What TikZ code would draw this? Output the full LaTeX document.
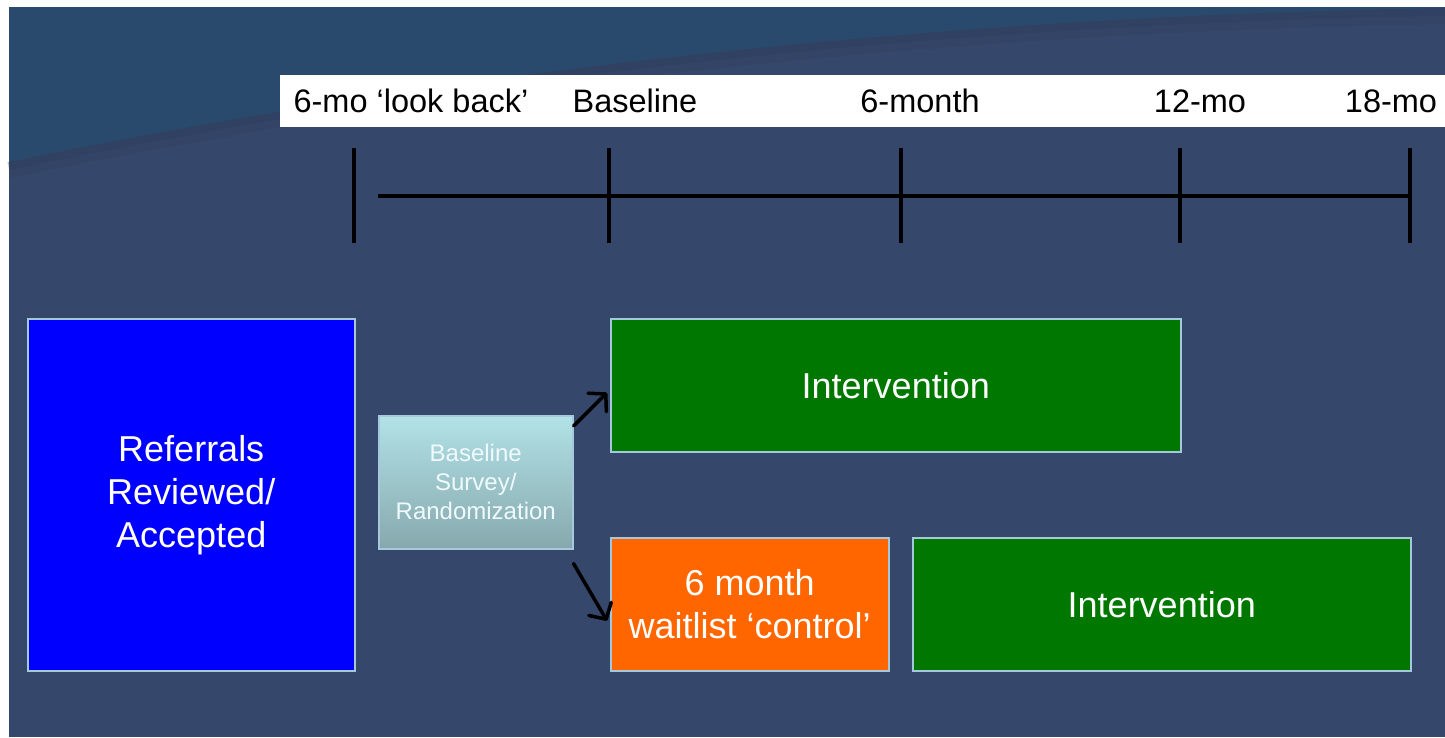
\documentclass[tikz,border=0pt]{standalone}
\usepackage{fontspec}
\setmainfont{Liberation Sans}
\usetikzlibrary{arrows.meta,calc}
\definecolor{bgdark}{HTML}{35476A}
\definecolor{bgtop}{HTML}{294A6C}
\definecolor{bgshade}{HTML}{2C3B58}
\definecolor{boxborder}{HTML}{A6C8DC}
\definecolor{refblue}{HTML}{0000FF}
\definecolor{intgreen}{HTML}{007800}
\definecolor{ctrlorange}{HTML}{FF6600}
\definecolor{survtop}{HTML}{B2E2E7}
\definecolor{survbot}{HTML}{86A8AD}
\tikzset{
  box/.style={draw=boxborder, line width=1.5pt, inner sep=0pt, text=white,
    align=center, anchor=north west},
  bigtext/.style={font=\fontsize{36}{43}\selectfont},
  ticklabel/.style={font=\fontsize{32.5}{38}\selectfont, text=black, anchor=base, inner sep=0pt},
  tick/.style={line width=4pt, black},
  arr/.style={line width=3.5pt, black, line cap=round,
    -{Straight Barb[length=12pt,width=26pt,line width=3.5pt,round]}},
}
\begin{document}
\begin{tikzpicture}[x=1pt,y=-1pt]
\useasboundingbox (0,0) rectangle (1445,737);
\fill[white] (0,0) rectangle (1445,737);
\fill[bgdark] (9,7) rectangle (1445,737);
\draw[bgshade, line width=16pt, opacity=0.18] (9,170) .. controls (500,68) and (1000,23) .. (1445,16);
\draw[bgshade, line width=8pt, opacity=0.25] (9,166) .. controls (500,64) and (1000,19) .. (1445,12);
\fill[bgtop] (9,7) -- (9,162) .. controls (500,60) and (1000,15) .. (1445,8) -- (1445,7) -- cycle;

% label bar
\fill[white] (280,75) rectangle (1445,127);
\node[ticklabel] (lb) at (411,112) {6-mo ‘look back’};
\node[ticklabel] (lbase) at (635,112) {Baseline};
\node[ticklabel] (l6) at (920,112) {6-month};
\node[ticklabel] (l12) at (1200,112) {12-mo};
\node[ticklabel] (l18) at (1391,112) {18-mo};

% timeline
\coordinate (t0a) at (354,148); \coordinate (t0b) at (354,243);
\coordinate (t1a) at (609,148); \coordinate (t1b) at (609,243);
\coordinate (t2a) at (901,148); \coordinate (t2b) at (901,243);
\coordinate (t3a) at (1180,148); \coordinate (t3b) at (1180,243);
\coordinate (t4a) at (1410,148); \coordinate (t4b) at (1410,243);
\coordinate (hl) at (378,196); \coordinate (hr) at (1410,196);
\draw[tick] (t0a) -- (t0b);
\draw[tick] (t1a) -- (t1b);
\draw[tick] (t2a) -- (t2b);
\draw[tick] (t3a) -- (t3b);
\draw[tick] (t4a) -- (t4b);
\draw[tick, line width=3.5pt] (hl) -- (hr);

% boxes
\node[box, fill=refblue, bigtext, minimum width=327pt, minimum height=352pt] (ref) at (27,318)
  {Referrals\\Reviewed/\\Accepted};
\node[box, top color=survtop, bottom color=survbot, text=white!94!cyan,
  font=\fontsize{24}{29}\selectfont, minimum width=194pt, minimum height=133pt] (surv) at (378,415)
  {Baseline\\Survey/\\Randomization};
\node[box, fill=intgreen, bigtext, minimum width=570pt, minimum height=133pt] (int1) at (610,318)
  {Intervention};
\node[box, fill=ctrlorange, bigtext, minimum width=278pt, minimum height=133pt] (ctrl) at (610,537)
  {6 month\\waitlist ‘control’};
\node[box, fill=intgreen, bigtext, minimum width=498pt, minimum height=133pt] (int2) at (912,537)
  {Intervention};

% arrows
\draw[arr] ([yshift=-11pt]surv.north east) -- ([xshift=-3pt,yshift=-7.5pt]int1.west);
\draw[arr] ([yshift=-14pt]surv.south east) -- ([xshift=-3pt,yshift=-16.5pt]ctrl.west);
\end{tikzpicture}
\end{document}
